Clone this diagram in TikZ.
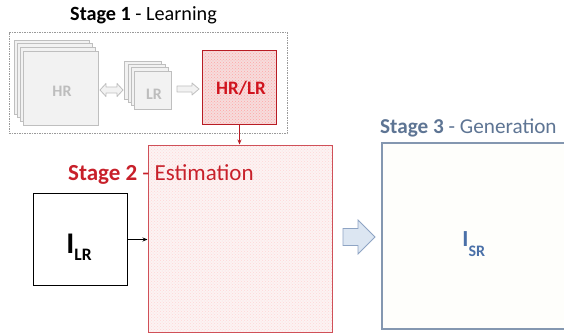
\documentclass[tikz,border=0pt]{standalone}
\usepackage{fontspec}
\setmainfont{Carlito}
\usetikzlibrary{patterns,arrows.meta}
\definecolor{grayfill}{HTML}{F2F2F2}
\definecolor{grayline}{HTML}{BFBFBF}
\definecolor{graytext}{HTML}{BDBDBD}
\definecolor{dashgray}{HTML}{9A9A9A}
\definecolor{darkred}{HTML}{B81C24}
\definecolor{redtext}{HTML}{D0141E}
\definecolor{stwored}{HTML}{C8202A}
\definecolor{stwoline}{HTML}{D05058}
\definecolor{pinkfill}{HTML}{F6DCDC}
\definecolor{lightpink}{HTML}{FCF3F3}
\definecolor{arrowblue}{HTML}{DCE6F2}
\definecolor{arrowline}{HTML}{8EA4C4}
\definecolor{sthreeline}{HTML}{8497B0}
\definecolor{sthreetext}{HTML}{5E7594}
\definecolor{srblue}{HTML}{4A70A8}
\definecolor{sthreefill}{HTML}{FEFEFB}
\tikzset{
  hrbox/.style={draw=grayline, fill=grayfill, line width=0.8pt, minimum width=75pt, minimum height=74pt, inner sep=0pt},
  lrbox/.style={draw=grayline, fill=grayfill, line width=0.8pt, minimum width=37pt, minimum height=38pt, inner sep=0pt},
  graytxt/.style={text=graytext, font=\bfseries\fontsize{16}{16}\selectfont, anchor=base, inner sep=0pt},
  blockarrow/.style={draw=grayline, fill=grayfill, line width=0.8pt, line join=round},
  bigarrow/.style={draw=arrowline, fill=arrowblue, line width=0.8pt},
  title/.style={anchor=base west, inner sep=0pt},
  textlbl/.style={anchor=base west, inner sep=0pt},
}
\begin{document}
\begin{tikzpicture}[x=1pt,y=-1pt]
\clip (0,0) rectangle (564,334);
\fill[white] (0,0) rectangle (564,334);
% Stage 1
\node[title, font=\fontsize{20.2}{20.2}\selectfont] (t1) at (70,20.7) {\textbf{Stage 1} - Learning};
\node[draw=dashgray, dash pattern=on 1.5pt off 1pt, line width=0.6pt, minimum width=278pt, minimum height=101pt, inner sep=0pt] (s1) at (148,83) {};
\node[hrbox] (hr3) at (51.5,77) {};
\node[hrbox] (hr2) at (54.5,80.7) {};
\node[hrbox] (hr1) at (57.5,84.3) {};
\node[hrbox] (hr) at (60.8,88) {};
\node[graytxt] (hrt) at (62,96) {HR};
\node[lrbox] (lr3) at (143.2,80.2) {};
\node[lrbox] (lr2) at (146.5,83.5) {};
\node[lrbox] (lr1) at (149.8,86.8) {};
\node[lrbox] (lr) at (153.3,90) {};
\node[graytxt] (lrt) at (154,99.3) {LR};
\draw[blockarrow] (100,90) -- (106,83.5) -- (106,87) -- (117,87) -- (117,83.5) -- (123,90) -- (117,96.5) -- (117,93) -- (106,93) -- (106,96.5) -- cycle;
\draw[blockarrow] (177,86) -- (192,86) -- (192,83) -- (199,89) -- (192,95) -- (192,92) -- (177,92) -- cycle;
\node[draw=darkred, line width=1pt, minimum width=74.5pt, minimum height=74.3pt, inner sep=0pt,
  preaction={fill=pinkfill}, pattern=crosshatch dots, pattern color=red!35] (hrlr) at (239.5,87.2) {};
\node[anchor=base, inner sep=0pt, text=redtext, font=\bfseries\fontsize{19}{19}\selectfont] (hrlrt) at (241,95) {HR/LR};
% Stage 2
\node[draw=stwoline, line width=1pt, minimum width=184pt, minimum height=187pt, inner sep=0pt,
  preaction={fill=lightpink}, pattern=crosshatch dots, pattern color=red!16] (s2) at (240,238.5) {};
\node[title, text=stwored, font=\fontsize{23}{23}\selectfont] (t2) at (68,180) {\textbf{Stage 2} - Estimation};
\node[draw=black, line width=1.2pt, fill=white, minimum width=94pt, minimum height=92.5pt, inner sep=0pt] (ilr) at (80.3,239.5) {};
\node[textlbl, font=\bfseries] (ilrt) at (66.2,253.3) {\fontsize{30}{30}\selectfont I\raisebox{-7.4pt}{\fontsize{17.5}{17.5}\selectfont LR}};
% Stage 3
\node[draw=sthreeline, fill=sthreefill, line width=1.2pt, minimum width=186pt, minimum height=186pt, inner sep=0pt] (s3) at (475,236) {};
\node[title, text=sthreetext, font=\fontsize{21.2}{21.2}\selectfont] (t3) at (380,133.5) {\textbf{Stage 3} - Generation};
\node[textlbl, text=srblue, font=\bfseries] (isrt) at (462.2,246.7) {\fontsize{23}{23}\selectfont I\raisebox{-10pt}{\fontsize{16}{16}\selectfont SR}};
\draw[bigarrow] (343,228.5) -- (358,228.5) -- (358,220) -- (375,237) -- (358,254) -- (358,245.5) -- (343,245.5) -- cycle;
% connectors
\draw[darkred, line width=0.8pt, -{Stealth[length=5pt,width=4pt]}] (hrlr.south) -- (hrlr.south |- s2.north);
\draw[black, line width=0.8pt, -{Stealth[length=5pt,width=4pt]}] (ilr.east) -- (ilr.east -| s2.west);
\end{tikzpicture}
\end{document}
